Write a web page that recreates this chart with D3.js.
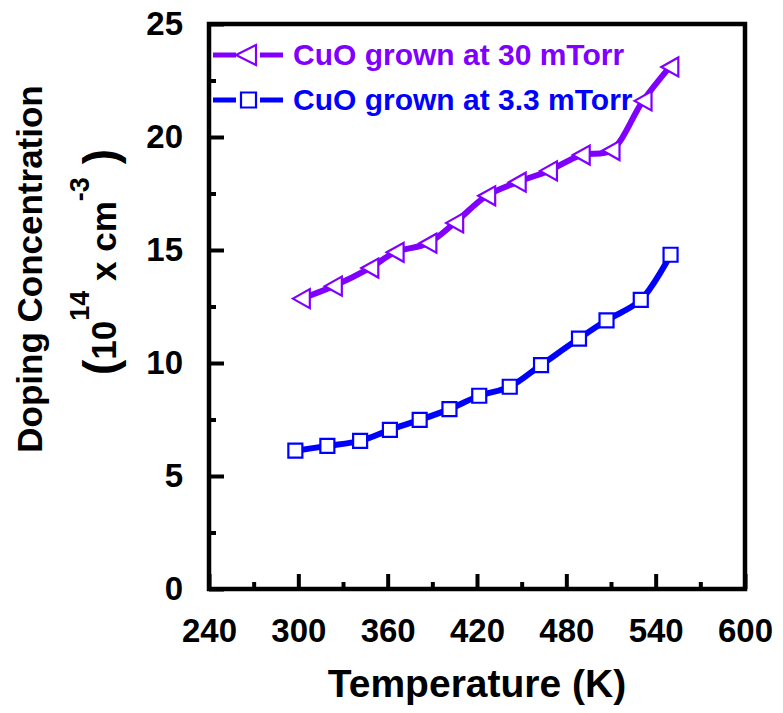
<!DOCTYPE html>
<html>
<head>
<meta charset="utf-8">
<script src="https://cdn.jsdelivr.net/npm/d3@7"></script>
<style>
  body { margin: 0; background: #fff; }
  text { font-family: "Liberation Sans", Arial, sans-serif; font-weight: bold; }
</style>
</head>
<body>
<svg width="783" height="713"></svg>
<script>
// data
var temp30 = [302, 323.5, 348, 365, 387, 405, 426.5, 447, 468, 490, 510, 531.5, 549.5];
var dop30 = [12.85, 13.4, 14.2, 14.9, 15.3, 16.2, 17.4, 18.0, 18.5, 19.2, 19.4, 21.6, 23.1];
var temp33 = [298, 319.5, 341.5, 361.5, 381.5, 401.5, 421.5, 442, 463, 488.5, 507, 530, 550];
var dop33 = [6.12, 6.33, 6.55, 7.04, 7.48, 7.96, 8.55, 8.95, 9.91, 11.08, 11.89, 12.79, 14.79];
var xTicks = [240, 300, 360, 420, 480, 540, 600];
var xMinor = [270, 330, 390, 450, 510, 570];
var yTicks = [0, 5, 10, 15, 20, 25];
var yMinor = [2.5, 7.5, 12.5, 17.5, 22.5];
var seriesNames = ["CuO grown at 30 mTorr", "CuO grown at 3.3 mTorr"];
var seriesColors = ["#8000ff", "#0000ff"];

var svg = d3.select("svg");
var pLeft = 209, pRight = 745, pTop = 24, pBottom = 589;

var x = d3.scaleLinear().domain([240, 600]).range([pLeft, pRight]);
var y = d3.scaleLinear().domain([0, 25]).range([pBottom, pTop]);

// minor ticks
svg.append("g")
  .attr("transform", "translate(0," + pBottom + ")")
  .call(d3.axisBottom(x).tickValues(xMinor).tickSize(-7).tickFormat(""))
  .call(function (g) { g.select(".domain").remove(); })
  .selectAll("line").attr("stroke-width", 4);

svg.append("g")
  .attr("transform", "translate(" + pLeft + ",0)")
  .call(d3.axisLeft(y).tickValues(yMinor).tickSize(-7).tickFormat(""))
  .call(function (g) { g.select(".domain").remove(); })
  .selectAll("line").attr("stroke-width", 4);

// major ticks + labels
var xAxis = svg.append("g")
  .attr("transform", "translate(0," + pBottom + ")")
  .call(d3.axisBottom(x).tickValues(xTicks).tickSize(-15).tickPadding(30));
xAxis.select(".domain").remove();
xAxis.selectAll("line").attr("stroke-width", 4);
xAxis.selectAll("text")
  .attr("font-size", 33)
  .attr("font-family", "Liberation Sans, Arial, sans-serif")
  .attr("font-weight", "bold")
  .attr("fill", "#000");

var yAxis = svg.append("g")
  .attr("transform", "translate(" + pLeft + ",0)")
  .call(d3.axisLeft(y).tickValues(yTicks).tickSize(-15).tickPadding(26));
yAxis.select(".domain").remove();
yAxis.selectAll("line").attr("stroke-width", 4);
yAxis.selectAll("text")
  .attr("font-size", 33)
  .attr("font-family", "Liberation Sans, Arial, sans-serif")
  .attr("font-weight", "bold")
  .attr("fill", "#000");

// frame
svg.append("rect")
  .attr("x", pLeft).attr("y", pTop)
  .attr("width", pRight - pLeft).attr("height", pBottom - pTop)
  .attr("fill", "none")
  .attr("stroke", "#000")
  .attr("stroke-width", 4.5);

var line = d3.line()
  .x(function (d) { return x(d[0]); })
  .y(function (d) { return y(d[1]); })
  .curve(d3.curveCatmullRom.alpha(0.5));

var tri = "M-8.5,0L8.5,-9.5L8.5,9.5Z";
var sq = "M-7,-7H7V7H-7Z";

var sets = [
  { pts: d3.zip(temp30, dop30), color: seriesColors[0], shape: tri },
  { pts: d3.zip(temp33, dop33), color: seriesColors[1], shape: sq }
];

sets.forEach(function (s) {
  svg.append("path")
    .datum(s.pts)
    .attr("d", line)
    .attr("fill", "none")
    .attr("stroke", s.color)
    .attr("stroke-width", 6);

  svg.append("g").selectAll("path")
    .data(s.pts)
    .enter().append("path")
    .attr("d", s.shape)
    .attr("transform", function (d) { return "translate(" + x(d[0]) + "," + y(d[1]) + ")"; })
    .attr("fill", "#fff")
    .attr("stroke", s.color)
    .attr("stroke-width", 2.2);
});

// legend
var legendShapes = ["M-10,0L10,-10L10,10Z", "M-7.5,-7.5H7.5V7.5H-7.5Z"];
var legendY = [55, 100];
seriesNames.forEach(function (name, i) {
  var g = svg.append("g").attr("transform", "translate(0," + legendY[i] + ")");
  g.append("line").attr("x1", 213).attr("x2", 236).attr("y1", 0).attr("y2", 0)
    .attr("stroke", seriesColors[i]).attr("stroke-width", 5);
  g.append("line").attr("x1", 260).attr("x2", 283).attr("y1", 0).attr("y2", 0)
    .attr("stroke", seriesColors[i]).attr("stroke-width", 5);
  g.append("path").attr("d", legendShapes[i])
    .attr("transform", "translate(" + (i == 0 ? 246 : 248.5) + ",0)")
    .attr("fill", "#fff").attr("stroke", seriesColors[i]).attr("stroke-width", 2.2);
  g.append("text")
    .attr("x", 293).attr("y", 10)
    .attr("font-size", 30)
    .attr("fill", seriesColors[i])
    .text(name);
});

// axis titles
svg.append("text")
  .attr("x", (pLeft + pRight) / 2)
  .attr("y", 697)
  .attr("text-anchor", "middle")
  .attr("font-size", 39)
  .text("Temperature (K)");

svg.append("text")
  .attr("transform", "translate(42,269) rotate(-90)")
  .attr("text-anchor", "middle")
  .attr("font-size", 35)
  .text("Doping Concentration");

var t2 = svg.append("text")
  .attr("transform", "translate(116,262) rotate(-90)")
  .attr("text-anchor", "middle")
  .attr("font-size", 35);
t2.append("tspan").attr("font-size", 46).text("(");
t2.append("tspan").text("10");
t2.append("tspan").attr("font-size", 27).attr("dy", -27).text("14");
t2.append("tspan").attr("dy", 27).text(" x cm");
t2.append("tspan").attr("font-size", 27).attr("dy", -27).text("-3");
t2.append("tspan").attr("dy", 27).attr("font-size", 46).text("\u00a0)");
</script>
</body>
</html>
